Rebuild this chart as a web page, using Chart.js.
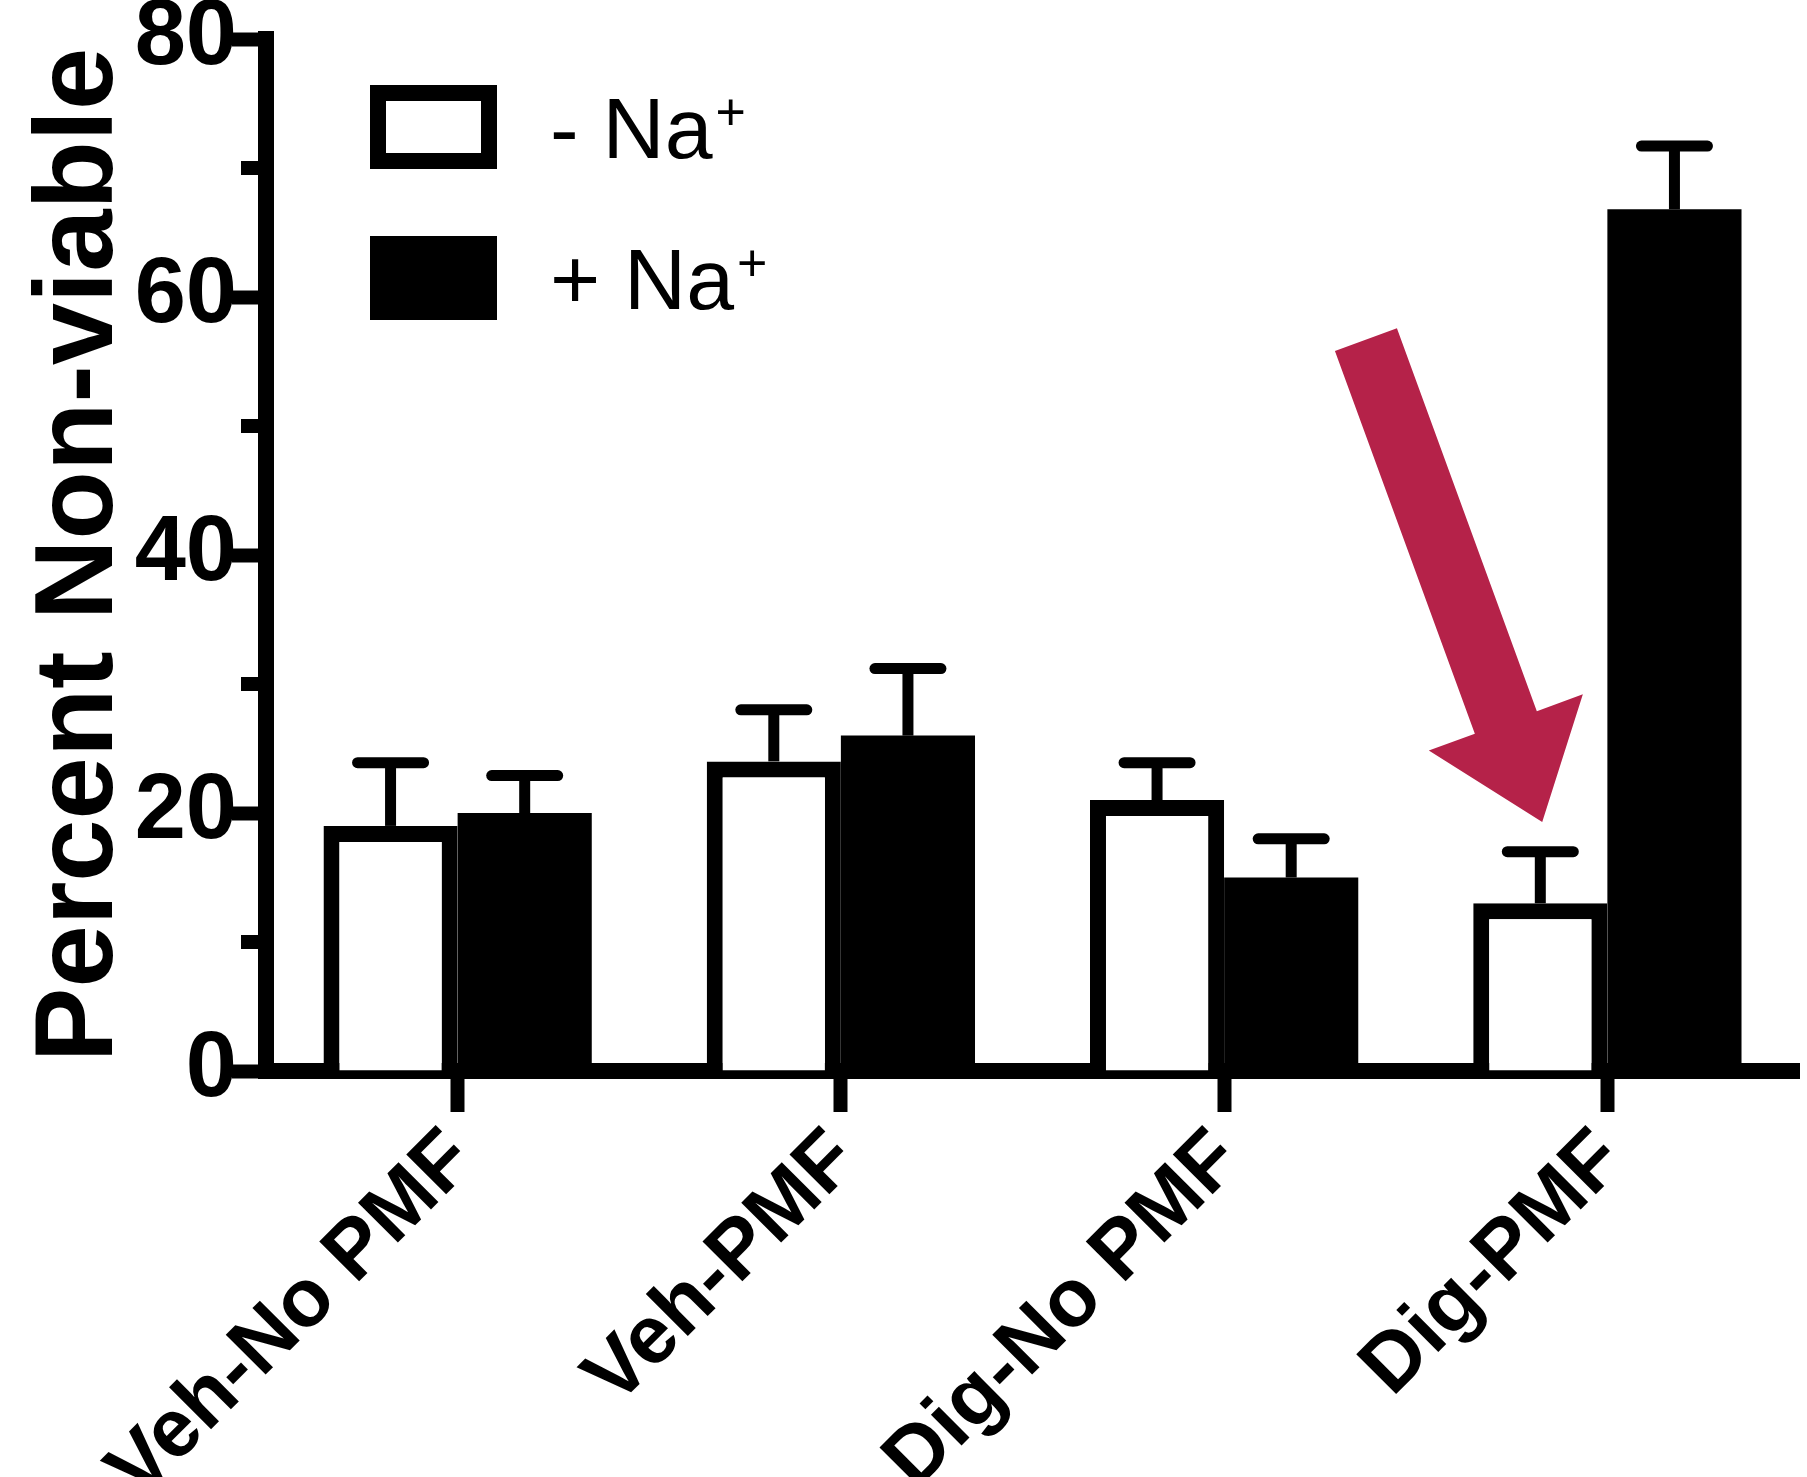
<!DOCTYPE html>
<html>
<head>
<meta charset="utf-8">
<script src="https://cdn.jsdelivr.net/npm/chart.js@4.4.1/dist/chart.umd.min.js"></script>
<style>
  html, body { margin: 0; padding: 0; background: #fff; }
  #wrap { width: 1807px; height: 1477px; position: relative; }
</style>
</head>
<body>
<div id="wrap"><canvas id="chart"></canvas></div>
<script>
const categories = ['Veh-No PMF', 'Veh-PMF', 'Dig-No PMF', 'Dig-PMF'];
const seriesNames = ['- Na\u207A', '+ Na\u207A'];
const minusNa = [19, 24, 21, 13];
const minusNaErr = [4.9, 4, 2.9, 4];
const plusNa = [20, 26, 15, 66.8];
const plusNaErr = [2.9, 5.2, 3, 4.9];
const yTicks = [0, 20, 40, 60, 80];
const yMinorTicks = [10, 30, 50, 70];
// red arrow pointing at the Dig-PMF / - Na+ bar (shift = fraction of a category width)
const arrowFrom = { category: 'Dig-PMF', shift: -0.63, value: 56.7 };
const arrowTo = { category: 'Dig-PMF', shift: -0.17, value: 19.3 };

const FONT = '"Liberation Sans", Arial, Helvetica, sans-serif';

function catX(scale, pos) {
    const i = categories.indexOf(pos.category);
    const step = scale.getPixelForValue(1) - scale.getPixelForValue(0);
    return scale.getPixelForValue(i) + pos.shift * step;
}

const errorBars = {
    id: 'errorBars',
    afterDatasetsDraw(chart) {
        const ctx = chart.ctx, y = chart.scales.y;
        chart.data.datasets.forEach((ds, di) => {
            chart.getDatasetMeta(di).data.forEach((bar, i) => {
                const top = y.getPixelForValue(ds.data[i] + ds.errors[i]);
                ctx.save();
                ctx.strokeStyle = '#000';
                ctx.lineWidth = 11;
                ctx.beginPath();
                ctx.moveTo(bar.x, bar.y);
                ctx.lineTo(bar.x, top);
                ctx.stroke();
                ctx.lineCap = 'round';
                ctx.beginPath();
                ctx.moveTo(bar.x - 33, top);
                ctx.lineTo(bar.x + 33, top);
                ctx.stroke();
                ctx.restore();
            });
        });
    }
};

const minorTicks = {
    id: 'minorTicks',
    afterDraw(chart) {
        const ctx = chart.ctx, y = chart.scales.y, left = chart.chartArea.left;
        ctx.save();
        ctx.strokeStyle = '#000';
        ctx.lineWidth = 14;
        yMinorTicks.forEach(v => {
            const py = y.getPixelForValue(v);
            ctx.beginPath();
            ctx.moveTo(left - 25, py);
            ctx.lineTo(left, py);
            ctx.stroke();
        });
        ctx.restore();
    }
};

const sodiumLegend = {
    id: 'sodiumLegend',
    afterDraw(chart) {
        const ctx = chart.ctx, area = chart.chartArea;
        chart.data.datasets.forEach((ds, i) => {
            const bx = area.left + 104, by = area.top + 46 + i * 151, bw = 127, bh = 84;
            ctx.save();
            ctx.fillStyle = ds.backgroundColor;
            ctx.fillRect(bx, by, bw, bh);
            if (ds.borderWidth) {
                ctx.lineWidth = 16;
                ctx.strokeStyle = ds.borderColor;
                ctx.strokeRect(bx + 8, by + 8, bw - 16, bh - 16);
            }
            const base = by + bh / 2 + 31;
            const main = ds.label.slice(0, -1);
            ctx.fillStyle = '#000';
            ctx.textBaseline = 'alphabetic';
            ctx.font = '86px ' + FONT;
            ctx.fillText(main, bx + 180, base);
            const w = ctx.measureText(main).width;
            ctx.font = '52px ' + FONT;
            ctx.fillText('+', bx + 180 + w + 3, base - 28);
            ctx.restore();
        });
    }
};

const arrowNote = {
    id: 'arrowNote',
    afterDraw(chart) {
        const ctx = chart.ctx, x = chart.scales.x, y = chart.scales.y;
        const x0 = catX(x, arrowFrom), y0 = y.getPixelForValue(arrowFrom.value);
        const x1 = catX(x, arrowTo), y1 = y.getPixelForValue(arrowTo.value);
        const len = Math.hypot(x1 - x0, y1 - y0);
        const ux = (x1 - x0) / len, uy = (y1 - y0) / len, px = -uy, py = ux;
        const shaft = 33, wing = 82, head = 106;
        const bx = x1 - ux * head, by = y1 - uy * head;
        const pts = [
            [x0 + px * shaft, y0 + py * shaft],
            [bx + px * shaft, by + py * shaft],
            [bx + px * wing, by + py * wing],
            [x1, y1],
            [bx - px * wing, by - py * wing],
            [bx - px * shaft, by - py * shaft],
            [x0 - px * shaft, y0 - py * shaft]
        ];
        ctx.save();
        ctx.fillStyle = '#b52249';
        ctx.beginPath();
        pts.forEach((p, i) => i ? ctx.lineTo(p[0], p[1]) : ctx.moveTo(p[0], p[1]));
        ctx.closePath();
        ctx.fill();
        ctx.restore();
    }
};

function renderChart() {
    const chartID = document.getElementById('chart').getContext('2d');
    new Chart(chartID, {
        type: 'bar',
        data: {
            labels: categories,
            datasets: [
                { label: seriesNames[0], data: minusNa, errors: minusNaErr,
                  backgroundColor: '#fff', borderColor: '#000', borderWidth: 16, borderSkipped: 'start' },
                { label: seriesNames[1], data: plusNa, errors: plusNaErr,
                  backgroundColor: '#000', borderColor: '#000', borderWidth: 0 }
            ]
        },
        options: {
            responsive: true,
            maintainAspectRatio: false,
            animation: false,
            layout: { padding: { top: 39, right: 8, left: 0, bottom: 0 } },
            datasets: { bar: { categoryPercentage: 0.7, barPercentage: 1 } },
            plugins: { legend: { display: false }, tooltip: { enabled: false } },
            scales: {
                x: {
                    z: 1,
                    offset: true,
                    border: { display: true, color: '#000', width: 16 },
                    grid: { drawOnChartArea: false, offset: false, tickLength: 41, tickWidth: 14, tickColor: '#000' },
                    ticks: { color: '#000', font: { family: FONT, size: 82, weight: 'bold' },
                             minRotation: 45, maxRotation: 45, autoSkip: false, padding: 0, labelOffset: 4 },
                    afterFit(s) { s.height = 406; s.paddingLeft = 0; s.paddingRight = 0; }
                },
                y: {
                    z: 1,
                    min: 0,
                    max: 80,
                    border: { color: '#000', width: 16 },
                    grid: { drawOnChartArea: false, tickLength: 34, tickWidth: 14, tickColor: '#000' },
                    ticks: { color: '#000', font: { family: FONT, size: 92, weight: 'bold' }, padding: -5 },
                    afterBuildTicks(s) { s.ticks = yTicks.map(v => ({ value: v })); },
                    title: { display: true, text: 'Percent Non-viable', color: '#000',
                             font: { family: FONT, size: 112, weight: 'bold', lineHeight: 1.2 },
                             padding: { top: 14, bottom: 0 } },
                    afterFit(s) { s.width = 266; s.paddingTop = 0; s.paddingBottom = 0; }
                }
            }
        },
        plugins: [errorBars, minorTicks, sodiumLegend, arrowNote]
    });
}

window.addEventListener("load", function() {
    renderChart();
});
</script>
</body>
</html>
